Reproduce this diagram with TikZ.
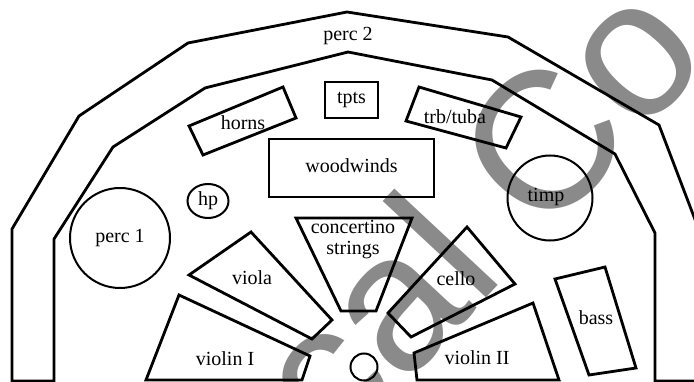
\documentclass[tikz,border=0pt]{standalone}
\usepackage{fontspec}
\setmainfont{Liberation Serif}
\newfontfamily\wmfont{Liberation Sans}
\usetikzlibrary{shapes.geometric}
\definecolor{wmgray}{RGB}{138,138,138}
\begin{document}
\begin{tikzpicture}[x=1pt,y=-1pt,
  lbl/.style={font=\fontsize{20}{21}\selectfont, inner sep=0pt, align=center},
  zone/.style={draw=black, line width=2.8pt},
  box/.style={draw=black, line width=2.4pt},
  ring/.style={draw=black, line width=2pt, inner sep=0pt},
  wm/.style={text=wmgray, font=\wmfont\fontsize{195}{195}\selectfont, inner sep=0pt, rotate=47}]
\useasboundingbox (0,0) rectangle (694,382);
\clip (0,0) rectangle (694,382);

% stamp behind the seating plan
\node[wm, anchor=base east] (stampa) at (507,276) {cal};
\node[wm, anchor=base west] (stampb) at (543,241) {Co};

% percussion band around the back of the stage
\draw[zone] (12,381) -- (12,229) -- (79,116) -- (188,43) -- (347,12) -- (508,37)
  -- (659,125) -- (699,230) -- (699,381) -- (655,381) -- (655,233) -- (615,154)
  -- (492,80) -- (348,52) -- (205,88) -- (113,147) -- (54,239) -- (54,381) -- cycle;
\node[lbl] (perc2) at (348,36) {perc 2};

% brass
\draw[zone] (189,126) -- (283,87) -- (296,118) -- (203,155) -- cycle;
\node[lbl] (horns) at (243,123) {horns};
\draw[box] (325,82) rectangle (378,118);
\node[lbl] (tpts) at (351.5,100) {tpts};
\draw[zone] (419,87) -- (521,117) -- (506,148) -- (406,121) -- cycle;
\node[lbl] (trb) at (455,117) {trb/tuba};

% woodwinds
\draw[box] (269,139) rectangle (434,197);
\node[lbl] (ww) at (351.5,166) {woodwinds};

% harp, percussion, timpani
\node[ring, ellipse, minimum width=41pt, minimum height=34pt] (hp) at (208,201) {};
\node[lbl] at (hp) {hp};
\node[ring, circle, minimum size=100pt] (perc1) at (120,238) {};
\node[lbl] at (perc1) {perc 1};
\node[ring, circle, minimum size=85pt] (timp) at (550,198) {};
\node[lbl] at (546,197) {timp};

% strings
\draw[zone] (296,218) -- (412,218) -- (376,311) -- (341,311) -- cycle;
\node[lbl] (conc) at (353,240) {concertino\\strings};
\draw[zone] (251,232) -- (189,275) -- (312,339) -- (332,320) -- cycle;
\node[lbl] (viola) at (252,278) {viola};
\draw[zone] (179,295) -- (310,356) -- (302,380) -- (146,380) -- cycle;
\node[lbl] (vln1) at (225,359) {violin I};
\draw[zone] (467,227) -- (515,284) -- (411,337) -- (388,313) -- cycle;
\node[lbl] (cello) at (456,279) {cello};
\draw[zone] (533,303) -- (559,380) -- (417,380) -- (414,353) -- cycle;
\node[lbl] (vln2) at (477,358) {violin II};
\draw[zone] (555,279) -- (605,267) -- (636,368) -- (589,375) -- cycle;
\node[lbl] (bass) at (596,318) {bass};

% conductor
\node[ring, circle, minimum size=27pt] (cond) at (364,367) {};
\end{tikzpicture}
\end{document}
